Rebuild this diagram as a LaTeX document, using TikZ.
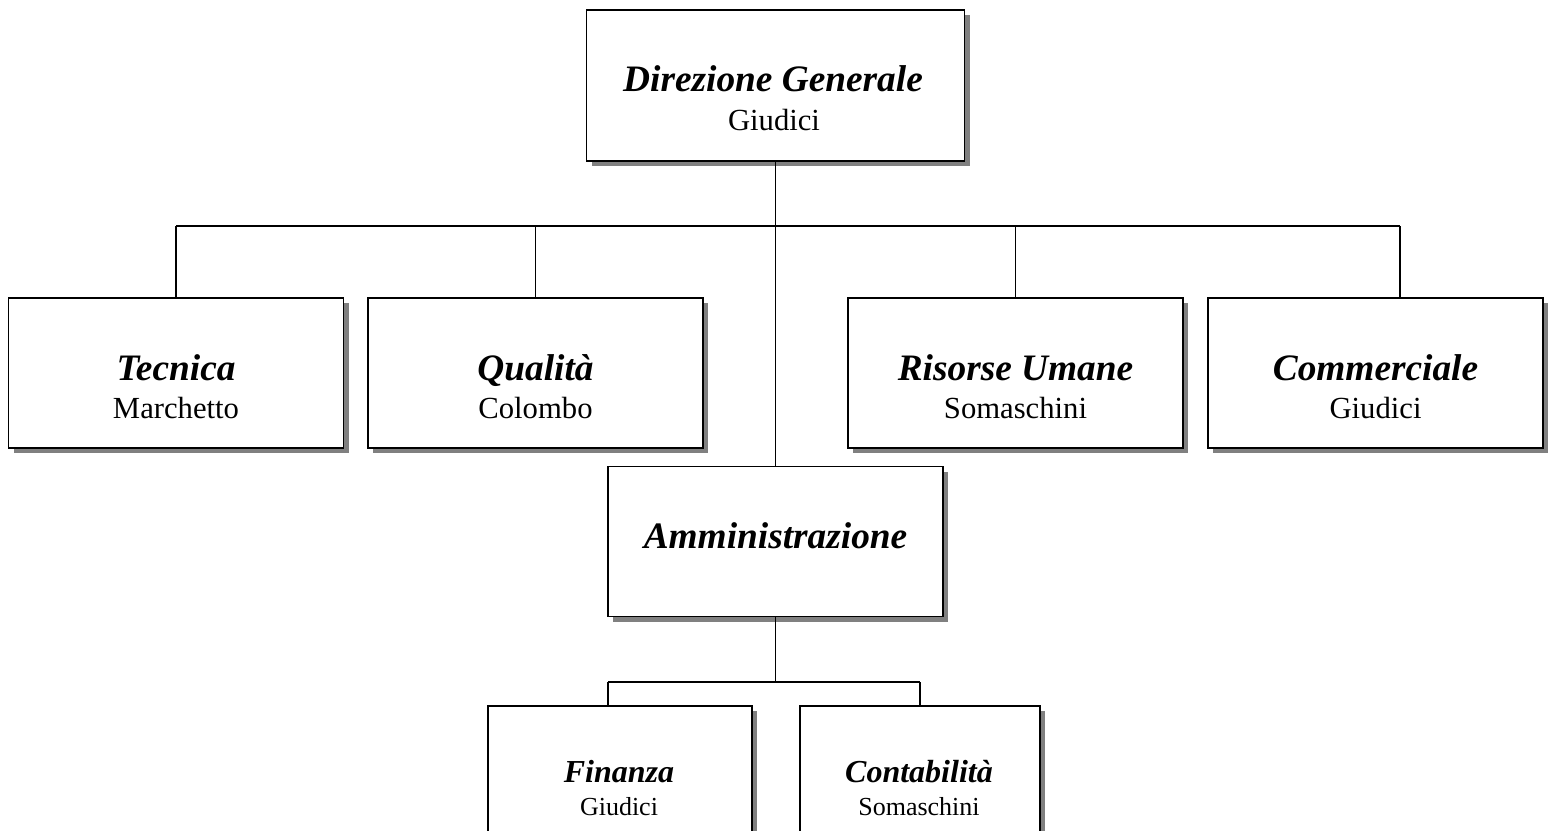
\documentclass[tikz,border=0pt]{standalone}
\usepackage{fontspec}
\setmainfont{Liberation Serif}
\usetikzlibrary{shadows}
\tikzset{
 every node/.style={text=black},
 unit/.style={draw=black,line width=1.4pt,fill=white,minimum width=335*.75pt,minimum height=150*.75pt,inner sep=0pt,
  drop shadow={shadow xshift=4pt,shadow yshift=-4pt,fill=black!50,opacity=1}},
 ttl/.style={anchor=base,font=\fontsize{28}{34}\selectfont\bfseries\itshape},
 who/.style={anchor=base,font=\fontsize{23}{28}\selectfont},
 sttl/.style={anchor=base,font=\fontsize{24}{29}\selectfont\bfseries\itshape},
 swho/.style={anchor=base,font=\fontsize{19.5}{24}\selectfont},
 link/.style={draw=black,line width=1.4pt},
 }
\begin{document}
\begin{tikzpicture}[x=.75pt,y=-.75pt]
 \useasboundingbox (0,0) rectangle (1552,831);
 \clip (0,0) rectangle (1552,831);
 % connectors
 \coordinate (busL) at (176,226);\coordinate (busR) at (1400,226);
 \coordinate (subL) at (608,682);\coordinate (subR) at (920,682);
 \node[unit,minimum width=378*.75pt,minimum height=151*.75pt](dir)at(775.5,85.5){};
 \node[unit](tec)at(176,373){};
 \node[unit](qua)at(535.5,373){};
 \node[unit](ris)at(1015.5,373){};
 \node[unit](com)at(1375.5,373){};
 \node[unit](amm)at(775.5,541.5){};
 \node[unit,minimum width=264*.75pt](fin)at(620,781){};
 \node[unit,minimum width=240*.75pt](con)at(920,781){};
 \draw[link](dir.south)--(amm.north);
 \draw[link](busL)--(busR);
 \draw[link](busL)--(busL|-tec.north);\draw[link](qua.north|-busL)--(qua.north);
 \draw[link](ris.north|-busL)--(ris.north);\draw[link](busR)--(busR|-com.north);
 \draw[link](amm.south)--(amm.south|-subL);
 \draw[link](subL)--(subR);
 \draw[link](subL)--(subL|-fin.north);\draw[link](subR)--(subR|-con.north);
 % texts
 \node[ttl](dirT)at(773,92){Direzione Generale};
 \node[who](dirW)at(774,131){Giudici};
 \node[ttl](tecT)at(176,380){Tecnica};
 \node[who](tecW)at(176,418){Marchetto};
 \node[ttl](quaT)at(535.5,380){Qualità};
 \node[who](quaW)at(535.5,418){Colombo};
 \node[ttl](risT)at(1015.5,380){Risorse Umane};
 \node[who](risW)at(1015.5,418){Somaschini};
 \node[ttl](comT)at(1375.5,380){Commerciale};
 \node[who](comW)at(1375.5,418){Giudici};
 \node[ttl](ammT)at(775.5,548){Amministrazione};
 \node[sttl](finT)at(619,782){Finanza};
 \node[swho](finW)at(619,815){Giudici};
 \node[sttl](conT)at(919,782){Contabilità};
 \node[swho](conW)at(919,815){Somaschini};
\end{tikzpicture}
\end{document}
